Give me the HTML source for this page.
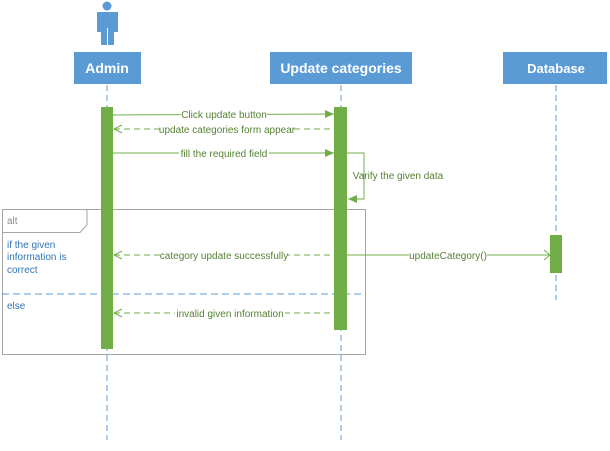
<!DOCTYPE html>
<html><head><style>body{margin:0;background:#fff}</style></head><body>
<svg width="610" height="446" xmlns="http://www.w3.org/2000/svg" font-family="Liberation Sans, sans-serif">
<defs>
<marker id="f" markerWidth="10" markerHeight="10" refX="9" refY="5" orient="auto" markerUnits="userSpaceOnUse"><path d="M0,1 L9,5 L0,9z" fill="#70ad47"/></marker>
<marker id="o" markerWidth="10" markerHeight="10" refX="1" refY="5" orient="auto" markerUnits="userSpaceOnUse"><path d="M9,1 L1,5 L9,9" fill="none" stroke="#70ad47"/></marker>
</defs>
<!-- person -->
<circle cx="107" cy="6" r="4.5" fill="#5b9bd5"/>
<path d="M97,12 h21 v20 h-1 v0 h-3 v13 h-6 v-13 h-1 v13 h-6 v-13 h-4z" fill="#5b9bd5"/>
<rect x="107" y="28" width="1" height="18" fill="#fff"/>
<rect x="74" y="52" width="67" height="32" fill="#5b9bd5"/>
<text x="107" y="73" fill="#fff" font-size="14" font-weight="bold" text-anchor="middle">Admin</text>
<rect x="270" y="52" width="142" height="32" fill="#5b9bd5"/>
<text x="341" y="73" fill="#fff" font-size="14" font-weight="bold" text-anchor="middle">Update categories</text>
<rect x="503" y="52" width="104" height="32" fill="#5b9bd5"/>
<text x="556" y="73" fill="#fff" font-size="13" font-weight="bold" text-anchor="middle">Database</text>
<g stroke="#5b9bd5" stroke-dasharray="6,4" stroke-width="1">
<line x1="107" y1="85" x2="107" y2="440"/><line x1="341" y1="85" x2="341" y2="440"/><line x1="556" y1="85" x2="556" y2="300"/>
</g>
<!-- alt frame -->
<rect x="2.5" y="209.5" width="363" height="145" fill="none" stroke="#a6a6a6"/>
<path d="M2.5,232.5 H80 L87,225 V209.5" fill="none" stroke="#a6a6a6"/>
<text x="7" y="224" font-size="10" fill="#8c8c8c">alt</text>
<line x1="2" y1="294" x2="366" y2="294" stroke="#5b9bd5" stroke-dasharray="7,4"/>
<text font-size="10" fill="#2e75b6"><tspan x="7" y="248">if the given</tspan><tspan x="7" y="260">information is</tspan><tspan x="7" y="273">correct</tspan><tspan x="7" y="309">else</tspan></text>
<!-- activations -->
<rect x="101" y="107" width="12" height="242" fill="#70ad47"/>
<rect x="334" y="107" width="13" height="223" fill="#70ad47"/>
<rect x="550" y="235" width="12" height="38" fill="#70ad47"/>
<g stroke="#70ad47" fill="none">
<line x1="113" y1="115" x2="334" y2="114" marker-end="url(#f)"/>
<line x1="114" y1="129" x2="334" y2="129" stroke-dasharray="6,4" marker-start="url(#o)"/>
<line x1="113" y1="153" x2="334" y2="153" marker-end="url(#f)"/>
<polyline points="347,153 364,153 364,199 348,199" marker-end="url(#f)"/>
<line x1="114" y1="255" x2="334" y2="255" stroke-dasharray="6,4" marker-start="url(#o)"/>
<line x1="347" y1="255" x2="550" y2="255"/>
<path d="M544,250 L550,255 L544,260"/>
<line x1="114" y1="313" x2="334" y2="313" stroke-dasharray="6,4" marker-start="url(#o)"/>
</g>
<g font-size="10" fill="#548235" text-anchor="middle">
<rect x="181" y="108" width="86" height="12" fill="#fff"/><text x="224" y="118">Click update button</text>
<rect x="160" y="123" width="134" height="12" fill="#fff"/><text x="227" y="133">update categories form appear</text>
<rect x="179" y="147" width="90" height="12" fill="#fff"/><text x="224" y="157">fill the required field</text>
<text x="398" y="179">Varify the given data</text>
<rect x="162" y="249" width="125" height="12" fill="#fff"/><text x="224" y="259">category update successfully</text>
<rect x="409" y="249" width="78" height="12" fill="#fff"/><text x="448" y="259">updateCategory()</text>
<rect x="175" y="307" width="110" height="12" fill="#fff"/><text x="230" y="317">invalid given information</text>
</g>
</svg>
</body></html>
